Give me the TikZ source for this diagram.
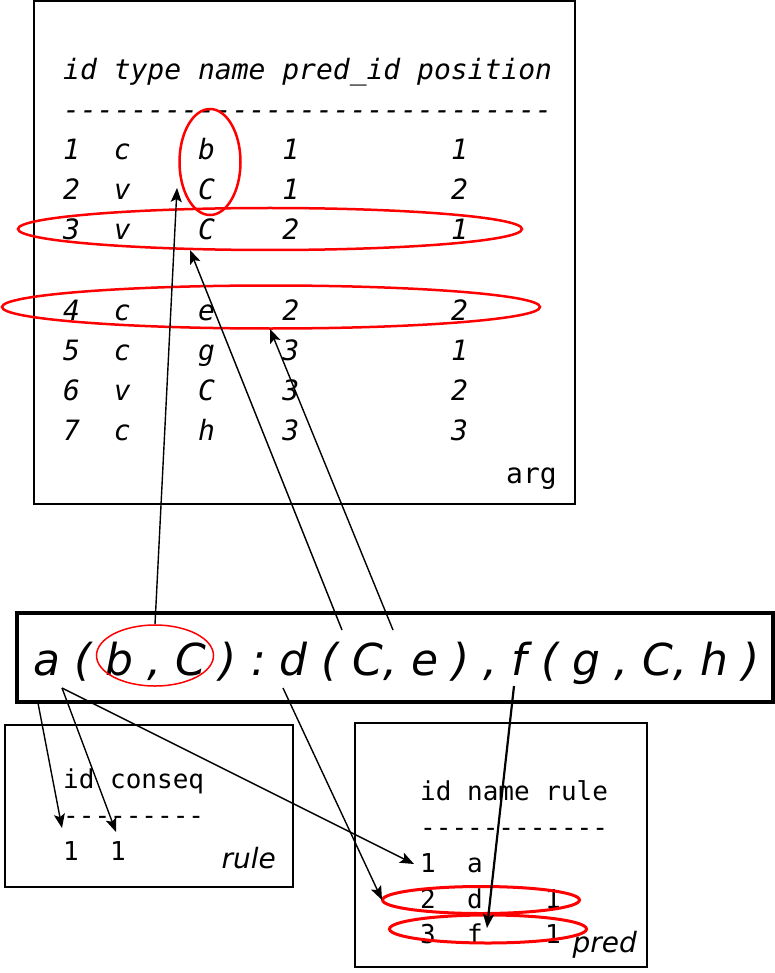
\documentclass[tikz,border=0pt]{standalone}
\usepackage{fontspec}
\setmonofont{DejaVu Sans Mono}[ItalicFont={DejaVu Sans Mono Oblique}]
\setsansfont{DejaVu Sans}[ItalicFont={DejaVu Sans Oblique}]
\usetikzlibrary{arrows.meta,shapes.geometric}
\begin{document}
\begin{tikzpicture}[x=1pt,y=-1pt,
  argt/.style={font=\fontsize{28}{28}\selectfont\ttfamily\itshape, anchor=base west, inner sep=0pt},
  tbl/.style={font=\fontsize{26}{26}\selectfont\ttfamily, anchor=base west, inner sep=0pt},
  lab/.style={font=\fontsize{28}{28}\selectfont\sffamily\itshape, anchor=base east, inner sep=0pt},
  boxn/.style={draw, line width=2pt, rectangle, inner sep=0pt},
  hl/.style={draw=red, ellipse, inner sep=0pt, line width=2.5pt},
  tipa/.tip={Stealth[length=14pt 0,width=11pt 0,inset=3pt 0]},
  arr/.style={line width=1.4pt, -tipa}]
\useasboundingbox (0,0) rectangle (774,973);
% boxes
\node[boxn, minimum width=541pt, minimum height=503pt] (argbox) at (304.5,252.5) {};
\node[boxn, line width=3.8pt, minimum width=756pt, minimum height=89pt] (formbox) at (395,657.5) {};
\node[boxn, minimum width=288pt, minimum height=162pt] (rulebox) at (149,806) {};
\node[boxn, minimum width=292pt, minimum height=244pt] (predbox) at (501,845) {};
% arg table
\node[argt] (arghead) at (63,80) {id type name pred\_id position};
\node[argt] (argdash) at (63,120) {-----------------------------};
\foreach \i/\t/\n/\p/\q/\y in {1/c/b/1/1/160, 2/v/C/1/2/200, 3/v/C/2/1/240, 4/c/e/2/2/320, 5/c/g/3/1/360, 6/v/C/3/2/400, 7/c/h/3/3/440}{
  \node[argt] (aid\i) at (63,\y) {\i};
  \node[argt] (atype\i) at (113.6,\y) {\t};
  \node[argt] (aname\i) at (197.9,\y) {\n};
  \node[argt] (apred\i) at (282.2,\y) {\p};
  \node[argt] (apos\i) at (450.8,\y) {\q};
}
\node[font=\fontsize{28}{28}\selectfont\ttfamily, anchor=base east, inner sep=0pt] (arglab) at (557,483) {arg};
% formula
\node[font=\fontsize{44}{44}\selectfont\sffamily\itshape, anchor=base west, inner sep=0pt] (form) at (33,675) {a ( b , C ) : d ( C, e ) , f ( g , C, h )};
% rule table
\node[tbl] (rulehead) at (63,788) {id conseq};
\node[tbl] (ruledash) at (63,824) {---------};
\node[tbl] (ruleid) at (63,860) {1};
\node[tbl] (rulecq) at (110,860) {1};
\node[lab] (rulelab) at (276,868) {rule};
% pred table
\node[tbl] (predhead) at (420,800) {id name rule};
\node[tbl] (preddash) at (420,836) {------------};
\node[tbl] (pid1) at (420,872) {1};
\node[tbl] (pname1) at (467,872) {a};
\node[tbl] (pid2) at (420,908) {2};
\node[tbl] (pname2) at (467,908) {d};
\node[tbl] (prule2) at (545,908) {1};
\node[tbl] (pid3) at (420,943) {3};
\node[tbl] (pname3) at (467,943) {f};
\node[tbl] (prule3) at (545,943) {1};
\node[lab] (predlab) at (637,952) {pred};
% red highlights
\node[hl, minimum width=61pt, minimum height=106pt] (hcol) at (210,162) {};
\node[hl, minimum width=504pt, minimum height=42pt] (hrow3) at (270,229) {};
\node[hl, minimum width=538pt, minimum height=43pt] (hrow4) at (271,307) {};
\node[hl, line width=1.5pt, minimum width=117pt, minimum height=61pt] (hbc) at (155,655.5) {};
\node[hl, line width=3pt, minimum width=197pt, minimum height=27pt] (hp2) at (481,900) {};
\node[hl, line width=3pt, minimum width=197pt, minimum height=28pt] (hp3) at (488,929) {};
% connector ends
\coordinate (t1) at (177,188);
\coordinate (t2) at (190,250);
\coordinate (t3) at (270,329);
\coordinate (t4) at (62,828);
\coordinate (t5) at (116,832);
\coordinate (t6) at (414,864);
\coordinate (t7) at (382,900);
\coordinate (t8) at (487,928);
\coordinate (s2) at (342,630);
\coordinate (s3) at (393,630);
\coordinate (s4) at (38,703);
\coordinate (s5) at (62,688);
\coordinate (s7) at (283,688);
\coordinate (s8) at (514,686);
% connectors
\draw[arr] (hbc.north) -- (t1);
\draw[arr] (s2) -- (t2);
\draw[arr] (s3) -- (t3);
\draw[arr] (s4) -- (t4);
\draw[arr] (s5) -- (t5);
\draw[arr] (s5) -- (t6);
\draw[arr] (s7) -- (t7);
\draw[arr, line width=2.2pt] (s8) -- (t8);
\end{tikzpicture}
\end{document}
